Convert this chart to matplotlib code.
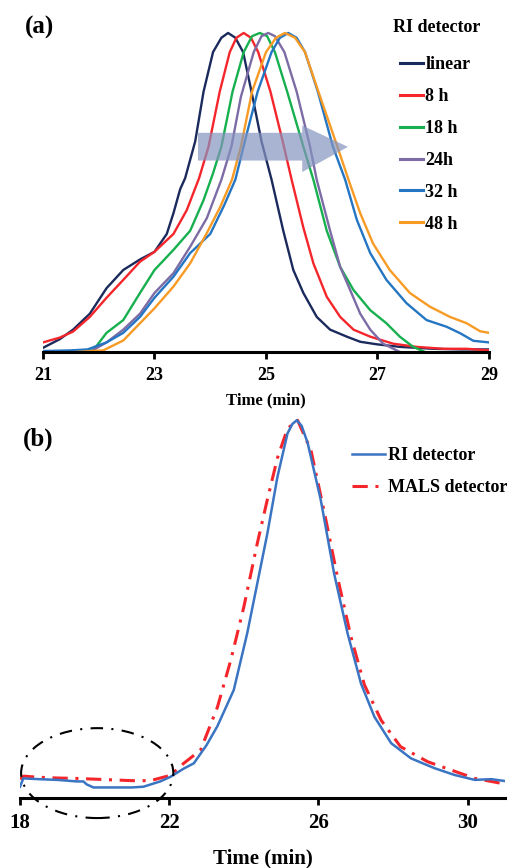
# GPC traces: RI detector overlay (a) and RI vs MALS comparison (b)

# IMPORTS #
import matplotlib
matplotlib.use("Agg")
import matplotlib.pyplot as plt
from matplotlib.patches import Polygon, Ellipse

# DATA #
# panel (a) - normalised RI traces
t_linear = [21.0, 21.3, 21.54, 21.84, 22.14, 22.44, 22.74, 23.0, 23.22, 23.34, 23.46, 23.55,
            23.73, 23.88, 24.05, 24.2, 24.32, 24.45, 24.59, 24.74, 24.92, 25.1, 25.31, 25.49,
            25.67, 25.91, 26.15, 26.45, 26.69, 26.99, 27.4, 28.0, 28.5, 29.0]
v_linear = [0.013, 0.04, 0.07, 0.12, 0.20, 0.257, 0.29, 0.314, 0.37, 0.435, 0.51, 0.545,
            0.66, 0.816, 0.94, 0.985, 1.0, 0.985, 0.94, 0.816, 0.66, 0.54, 0.38, 0.257,
            0.185, 0.11, 0.07, 0.048, 0.032, 0.024, 0.016, 0.01, 0.008, 0.008]

t_8h = [21.0, 21.3, 21.54, 21.84, 22.14, 22.44, 22.74, 23.0, 23.34, 23.58, 23.8, 23.97,
        24.17, 24.35, 24.47, 24.6, 24.73, 24.86, 25.08, 25.3, 25.46, 25.67, 25.85, 26.09,
        26.33, 26.57, 26.87, 27.28, 27.7, 28.18, 28.6, 29.0]
v_8h = [0.03, 0.045, 0.064, 0.11, 0.17, 0.226, 0.283, 0.314, 0.37, 0.445, 0.545, 0.644,
        0.816, 0.94, 0.985, 1.0, 0.985, 0.94, 0.816, 0.66, 0.54, 0.39, 0.278, 0.173,
        0.11, 0.07, 0.048, 0.026, 0.016, 0.01, 0.01, 0.005]

t_18h = [21.0, 21.9, 22.14, 22.44, 22.74, 23.0, 23.34, 23.64, 23.88, 24.05, 24.2, 24.4,
         24.6, 24.75, 24.89, 25.02, 25.16, 25.38, 25.67, 25.85, 26.09, 26.33, 26.57, 26.87,
         27.16, 27.4, 27.64, 27.85]
v_18h = [0.0, 0.005, 0.06, 0.10, 0.185, 0.257, 0.32, 0.38, 0.476, 0.56, 0.644, 0.816,
         0.94, 0.99, 1.0, 0.99, 0.94, 0.816, 0.644, 0.54, 0.38, 0.267, 0.194, 0.131,
         0.09, 0.048, 0.016, 0.0]

t_24h = [21.0, 21.84, 22.14, 22.44, 22.74, 23.0, 23.34, 23.64, 23.94, 24.2, 24.38, 24.55,
         24.78, 24.92, 25.04, 25.16, 25.33, 25.55, 25.79, 25.91, 26.15, 26.33, 26.51, 26.69,
         26.87, 27.1, 27.4]
v_24h = [0.0, 0.0, 0.03, 0.07, 0.12, 0.185, 0.247, 0.33, 0.42, 0.54, 0.644, 0.8,
         0.94, 0.99, 1.0, 0.99, 0.94, 0.816, 0.644, 0.54, 0.38, 0.267, 0.194, 0.12,
         0.07, 0.026, 0.0]

t_32h = [21.0, 21.5, 21.8, 22.14, 22.44, 22.74, 23.0, 23.34, 23.64, 24.0, 24.25, 24.45,
         24.62, 24.85, 25.1, 25.25, 25.4, 25.55, 25.7, 25.93, 26.2, 26.42, 26.63, 26.87,
         27.16, 27.52, 27.88, 28.24, 28.48, 28.72, 29.0]
v_32h = [0.003, 0.005, 0.008, 0.03, 0.06, 0.11, 0.17, 0.236, 0.31, 0.37, 0.46, 0.54,
         0.66, 0.816, 0.94, 0.985, 1.0, 0.985, 0.94, 0.816, 0.644, 0.54, 0.414, 0.31,
         0.226, 0.153, 0.1, 0.079, 0.059, 0.035, 0.03]

t_48h = [21.6, 22.08, 22.44, 22.74, 23.0, 23.34, 23.64, 23.94, 24.18, 24.39, 24.55, 24.75,
         25.0, 25.18, 25.34, 25.52, 25.7, 25.94, 26.28, 26.48, 26.69, 26.92, 27.22, 27.58,
         27.94, 28.3, 28.6, 28.84, 29.0]
v_48h = [0.0, 0.005, 0.036, 0.09, 0.137, 0.205, 0.278, 0.373, 0.455, 0.54, 0.644, 0.816,
         0.94, 0.985, 1.0, 0.985, 0.94, 0.816, 0.644, 0.54, 0.435, 0.34, 0.257, 0.185,
         0.142, 0.11, 0.09, 0.065, 0.06]

labels_a = ['linear', '8 h', '18 h', '24h', '32 h', '48 h']
colors_a = ['#1b2a5c', '#f5262b', '#17b04f', '#7d6ba6', '#2475c2', '#f89b25']
series_a = [(t_linear, v_linear), (t_8h, v_8h), (t_18h, v_18h),
            (t_24h, v_24h), (t_32h, v_32h), (t_48h, v_48h)]
ticks_a = [21, 23, 25, 27, 29]

# panel (b) - RI vs MALS
t_ri = [18.0, 18.09, 18.5, 19.0, 19.52, 19.7, 19.79, 19.97, 20.5, 21.0, 21.31, 21.76,
        22.03, 22.39, 22.66, 23.0, 23.29, 23.73, 24.09, 24.36, 24.63, 24.9, 25.17, 25.3,
        25.42, 25.55, 25.71, 26.06, 26.42, 26.78, 27.14, 27.5, 27.95, 28.48, 29.11, 29.65,
        30.19, 30.63, 31.0]
v_ri = [0.03, 0.052, 0.05, 0.048, 0.044, 0.044, 0.036, 0.028, 0.028, 0.028, 0.03, 0.044,
        0.056, 0.078, 0.092, 0.14, 0.19, 0.286, 0.436, 0.568, 0.70, 0.85, 0.965, 0.99,
        1.0, 0.985, 0.94, 0.79, 0.594, 0.436, 0.303, 0.215, 0.145, 0.105, 0.079, 0.061,
        0.048, 0.05, 0.045]

t_mals = [18.0, 18.1, 18.5, 19.0, 19.5, 20.0, 20.5, 21.0, 21.5, 21.76, 22.03, 22.39,
          22.84, 23.29, 23.65, 24.0, 24.36, 24.63, 24.9, 25.17, 25.44, 25.8, 26.15, 26.51,
          26.87, 27.23, 27.68, 28.2, 28.93, 29.56, 30.19, 30.9]
v_mals = [0.05, 0.058, 0.055, 0.053, 0.052, 0.05, 0.048, 0.046, 0.046, 0.053, 0.06, 0.092,
          0.127, 0.24, 0.365, 0.506, 0.674, 0.79, 0.90, 0.978, 1.0, 0.92, 0.76, 0.585,
          0.427, 0.30, 0.206, 0.136, 0.096, 0.074, 0.052, 0.039]
ticks_b = [18, 22, 26, 30]

# STYLE #
plt.rcParams['font.family'] = ['Liberation Serif', 'DejaVu Serif']
plt.rcParams['font.weight'] = 'bold'

fig = plt.figure(figsize=(5.10, 8.68), dpi=100)


def style_axis(ax, ticks, fs):
    # only the bottom spine is shown, thick with outward ticks
    for s in ['left', 'right', 'top']:
        ax.spines[s].set_visible(False)
    ax.spines['bottom'].set_linewidth(2.2)
    ax.spines['bottom'].set_zorder(5)
    ax.set_yticks([])
    ax.set_xticks(ticks)
    ax.tick_params(axis='x', direction='out', length=5, width=2, pad=6, labelsize=fs)
    for lab in ax.get_xticklabels():
        lab.set_fontweight('bold')
    ax.patch.set_visible(False)


# PANEL A #
ax1 = fig.add_axes([0.0843, 0.5945, 0.8745, 0.3859])
for (t, v), c, lab in zip(series_a, colors_a, labels_a):
    ax1.plot(t, v, color=c, lw=1.7, label=lab)
ax1.set_xlim(21, 29)
ax1.set_ylim(0, 1.05)
style_axis(ax1, ticks_a, 13)
ax1.set_xlabel('Time (min)', fontsize=12, fontweight='bold', labelpad=6)

# shift arrow
arrow_x = [23.78, 25.65, 25.65, 26.47, 25.65, 25.65, 23.78]
arrow_y = [0.687, 0.687, 0.71, 0.643, 0.564, 0.60, 0.60]
ax1.add_patch(Polygon(list(zip(arrow_x, arrow_y)), closed=True, facecolor='#8594bf',
                      edgecolor='none', alpha=0.7, zorder=4))

leg1 = ax1.legend(loc='upper left', bbox_to_anchor=(0.8004, 0.884), frameon=False,
                  fontsize=13, handlelength=1.3, handletextpad=0.1, labelspacing=0.83,
                  borderpad=0, borderaxespad=0)
for line in leg1.get_lines():
    line.set_linewidth(2.2)
fig.text(393 / 510, 1 - 27 / 868, 'RI detector', fontsize=13, fontweight='bold',
         va='center', ha='left')

fig.text(0.049, 1 - 27 / 868, '(a)', fontsize=18, fontweight='bold', va='center')

# PANEL B #
ax2 = fig.add_axes([0.0392, 0.0806, 0.951, 0.457])
ax2.plot(t_ri, v_ri, color='#3a74c2', lw=1.8, label='RI detector', zorder=3)
ax2.plot(t_mals, v_mals, color='#f5262b', lw=2.2, linestyle=(0, (5, 2.5, 1, 2.5)),
         label='MALS detector', zorder=2)
ax2.set_xlim(18, 31)
ax2.set_ylim(0, 1.05)
style_axis(ax2, ticks_b, 15)
ax2.set_xlabel('Time (min)', fontsize=15, fontweight='bold', labelpad=11)

ax2.add_patch(Ellipse((20.07, 0.066), 4.08, 0.238, fill=False, edgecolor='black',
                      lw=1.5, linestyle=(0, (6, 4, 1, 4)), clip_on=False, zorder=6))

leg2 = ax2.legend(loc='upper left', bbox_to_anchor=(0.6845, 0.885), frameon=False,
                  fontsize=13, handlelength=1.83, handletextpad=0.17, labelspacing=0.84,
                  borderpad=0, borderaxespad=0)

fig.text(0.045, 1 - 439 / 868, '(b)', fontsize=18, fontweight='bold', va='center')

fig.savefig('out.png', dpi=100)
